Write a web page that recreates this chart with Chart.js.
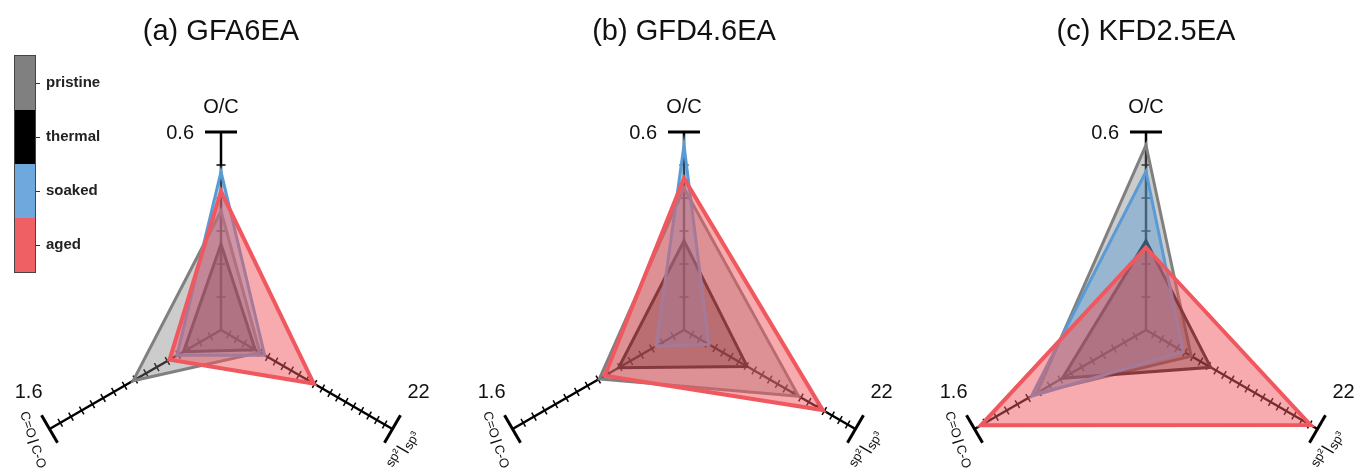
<!DOCTYPE html>
<html>
<head>
<meta charset="utf-8">
<script src="https://cdn.jsdelivr.net/npm/chart.js@4"></script>
<style>
  body { margin: 0; width: 1354px; height: 473px; overflow: hidden; background: #fff;
         font-family: "Liberation Sans", Arial, sans-serif; position: relative; }
  .panel { position: absolute; top: 0; width: 462px; height: 473px; }
  .panel canvas { position: absolute; left: 0; top: 0; }
  .title { position: absolute; top: 14px; left: 0; width: 442px; text-align: center;
           font-size: 29px; line-height: 33px; color: #111; }
  #legend { position: absolute; left: 14px; top: 55px; }
  #legend .bar { position: absolute; left: 0; top: 0; width: 20px; height: 216px; border: 1px solid #444; }
  #legend .seg { height: 54px; }
  #legend .tick { position: absolute; left: 22px; width: 4px; height: 1px; background: #333; }
  #legend .lbl { position: absolute; left: 32px; font-size: 15px; font-weight: bold; line-height: 18px; color: #222; }
</style>
</head>
<body>

<div class="panel" style="left:0px"><canvas id="chartA" width="462" height="473"></canvas><div class="title" id="titleA"></div></div>
<div class="panel" style="left:463px"><canvas id="chartB" width="462" height="473"></canvas><div class="title" id="titleB"></div></div>
<div class="panel" style="left:925px"><canvas id="chartC" width="462" height="473"></canvas><div class="title" id="titleC"></div></div>
<div id="legend"></div>

<script>
// axes, clockwise from the top
const AXES = ["O/C", "sp²/sp³", "C=O/C-O"];
const AXIS_MAX = [0.6, 22, 1.6];
const AXIS_STEP = [0.1, 1, 0.1];
const MAX_LABELS = ["0.6", "22", "1.6"];

const SERIES = ["pristine", "thermal", "soaked", "aged"];
const TITLES = ["(a) GFA6EA", "(b) GFD4.6EA", "(c) KFD2.5EA"];

// one row per series (pristine, thermal, soaked, aged), columns follow AXES
const gfa6ea = [
    [0.36, 5.0, 0.82],
    [0.26, 4.4, 0.35],
    [0.48, 5.6, 0.41],
    [0.42, 11.9, 0.48]
];
const gfd46ea = [
    [0.43, 14.7, 0.79],
    [0.27, 8.1, 0.61],
    [0.56, 3.2, 0.26],
    [0.46, 17.8, 0.74]
];
const kfd25ea = [
    [0.56, 5.8, 1.02],
    [0.27, 8.3, 0.78],
    [0.48, 4.8, 1.07],
    [0.25, 21.1, 1.54]
];

const LINE_COLORS = ["#808080", "#1a1a1a", "#5b9bd5", "#ef585e"];
const FILL_COLORS = ["rgba(128,128,128,0.4)", "rgba(0,0,0,0.35)", "rgba(91,155,213,0.45)", "rgba(239,88,94,0.5)"];
const LEGEND_COLORS = ["#808080", "#000000", "#6fa8dc", "#ef6065"];

// where the radar sits inside each panel canvas
const CX = 221, CY = 330, RADIUS = 198;


// ============================
// AXES WITH TICK MARKS
// ============================
const axesPlugin = {
    id: "axes",
    beforeDatasetsDraw(chart) {
        const r = chart.scales.r;
        const ctx = chart.ctx;
        ctx.save();
        ctx.strokeStyle = "#000";
        AXES.forEach((name, i) => {
            const c = r.getPointPositionForValue(i, 0);
            const e = r.getPointPositionForValue(i, 1);
            const len = Math.hypot(e.x - c.x, e.y - c.y);
            const px = -(e.y - c.y) / len, py = (e.x - c.x) / len;

            ctx.lineWidth = 2.5;
            ctx.beginPath();
            ctx.moveTo(c.x, c.y);
            ctx.lineTo(e.x, e.y);
            ctx.stroke();

            const n = Math.round(AXIS_MAX[i] / AXIS_STEP[i]);
            ctx.lineWidth = 1.5;
            for (let k = 1; k < n; k++) {
                const p = r.getPointPositionForValue(i, k / n);
                ctx.beginPath();
                ctx.moveTo(p.x - px * 4.5, p.y - py * 4.5);
                ctx.lineTo(p.x + px * 4.5, p.y + py * 4.5);
                ctx.stroke();
            }

            ctx.lineWidth = 3;
            ctx.beginPath();
            ctx.moveTo(e.x - px * 16, e.y - py * 16);
            ctx.lineTo(e.x + px * 16, e.y + py * 16);
            ctx.stroke();
        });
        ctx.restore();
    }
};


// ============================
// AXIS NAMES AND END VALUES
// ============================
const labelsPlugin = {
    id: "axisLabels",
    afterDraw(chart) {
        const r = chart.scales.r;
        const ctx = chart.ctx;
        const top = r.getPointPositionForValue(0, 1);
        const right = r.getPointPositionForValue(1, 1);
        const left = r.getPointPositionForValue(2, 1);

        ctx.save();
        ctx.fillStyle = "#111";
        ctx.textBaseline = "alphabetic";
        ctx.font = '20px "Liberation Sans", Arial, sans-serif';

        ctx.textAlign = "center";
        ctx.fillText(AXES[0], top.x, top.y - 19);
        ctx.textAlign = "right";
        ctx.fillText(MAX_LABELS[0], top.x - 27, top.y + 7);
        ctx.fillText(MAX_LABELS[2], left.x - 7, left.y - 31);
        ctx.textAlign = "left";
        ctx.fillText(MAX_LABELS[1], right.x + 15, right.y - 31);

        // small rotated names at the lower ends
        ctx.font = '13px "Liberation Sans", Arial, sans-serif';
        ctx.lineWidth = 1.5;
        ctx.strokeStyle = "#111";

        ctx.save();
        ctx.translate(left.x - 26, left.y - 17);
        ctx.rotate(72 * Math.PI / 180);
        ctx.textBaseline = "middle";
        ctx.fillText("C=O", 0, 0);
        ctx.beginPath();
        ctx.moveTo(31, -6);
        ctx.lineTo(31, 6);
        ctx.stroke();
        ctx.fillText("C-O", 35, 0);
        ctx.restore();

        ctx.save();
        ctx.translate(right.x - 3, right.y + 37);
        ctx.rotate(-60 * Math.PI / 180);
        ctx.textBaseline = "middle";
        ctx.fillText("sp²", 0, 0);
        ctx.beginPath();
        ctx.moveTo(21, -4);
        ctx.lineTo(21, 10);
        ctx.stroke();
        ctx.fillText("sp³", 24, 7);
        ctx.restore();

        ctx.restore();
    }
};


// ============================
// ONE RADAR PER PANEL
// ============================
function buildPanel(canvasId, titleId, title, values) {
    document.getElementById(titleId).textContent = title;

    const datasets = SERIES.map((name, s) => ({
        label: name,
        data: values[s].map((v, i) => v / AXIS_MAX[i]),
        borderColor: LINE_COLORS[s],
        backgroundColor: FILL_COLORS[s],
        borderWidth: s === 3 ? 4 : 3,
        fill: true,
        tension: 0,
        pointRadius: 0,
        pointHoverRadius: 0,
        order: SERIES.length - 1 - s, // aged drawn on top
        clip: false
    }));

    new Chart(document.getElementById(canvasId), {
        type: "radar",
        data: { labels: AXES, datasets },
        options: {
            responsive: false,
            animation: false,
            devicePixelRatio: 1,
            events: [],
            layout: { padding: 0 },
            plugins: {
                legend: { display: false },
                tooltip: { enabled: false }
            },
            scales: {
                r: {
                    min: 0,
                    max: 1,
                    startAngle: 0,
                    ticks: { display: false },
                    grid: { display: false },
                    angleLines: { display: false },
                    pointLabels: { display: false },
                    afterFit: (scale) => {
                        scale.xCenter = CX;
                        scale.yCenter = CY;
                        scale.drawingArea = RADIUS;
                    }
                }
            }
        },
        plugins: [axesPlugin, labelsPlugin]
    });
}

buildPanel("chartA", "titleA", TITLES[0], gfa6ea);
buildPanel("chartB", "titleB", TITLES[1], gfd46ea);
buildPanel("chartC", "titleC", TITLES[2], kfd25ea);


// ============================
// COLOUR BAR LEGEND
// ============================
const legend = document.getElementById("legend");
const bar = document.createElement("div");
bar.className = "bar";
SERIES.forEach((name, s) => {
    const seg = document.createElement("div");
    seg.className = "seg";
    seg.style.background = LEGEND_COLORS[s];
    bar.appendChild(seg);

    const mid = 1 + s * 54 + 27;
    const tick = document.createElement("div");
    tick.className = "tick";
    tick.style.top = mid + "px";
    legend.appendChild(tick);

    const lbl = document.createElement("div");
    lbl.className = "lbl";
    lbl.style.top = (mid - 10) + "px";
    lbl.textContent = name;
    legend.appendChild(lbl);
});
legend.appendChild(bar);
</script>
</body>
</html>
